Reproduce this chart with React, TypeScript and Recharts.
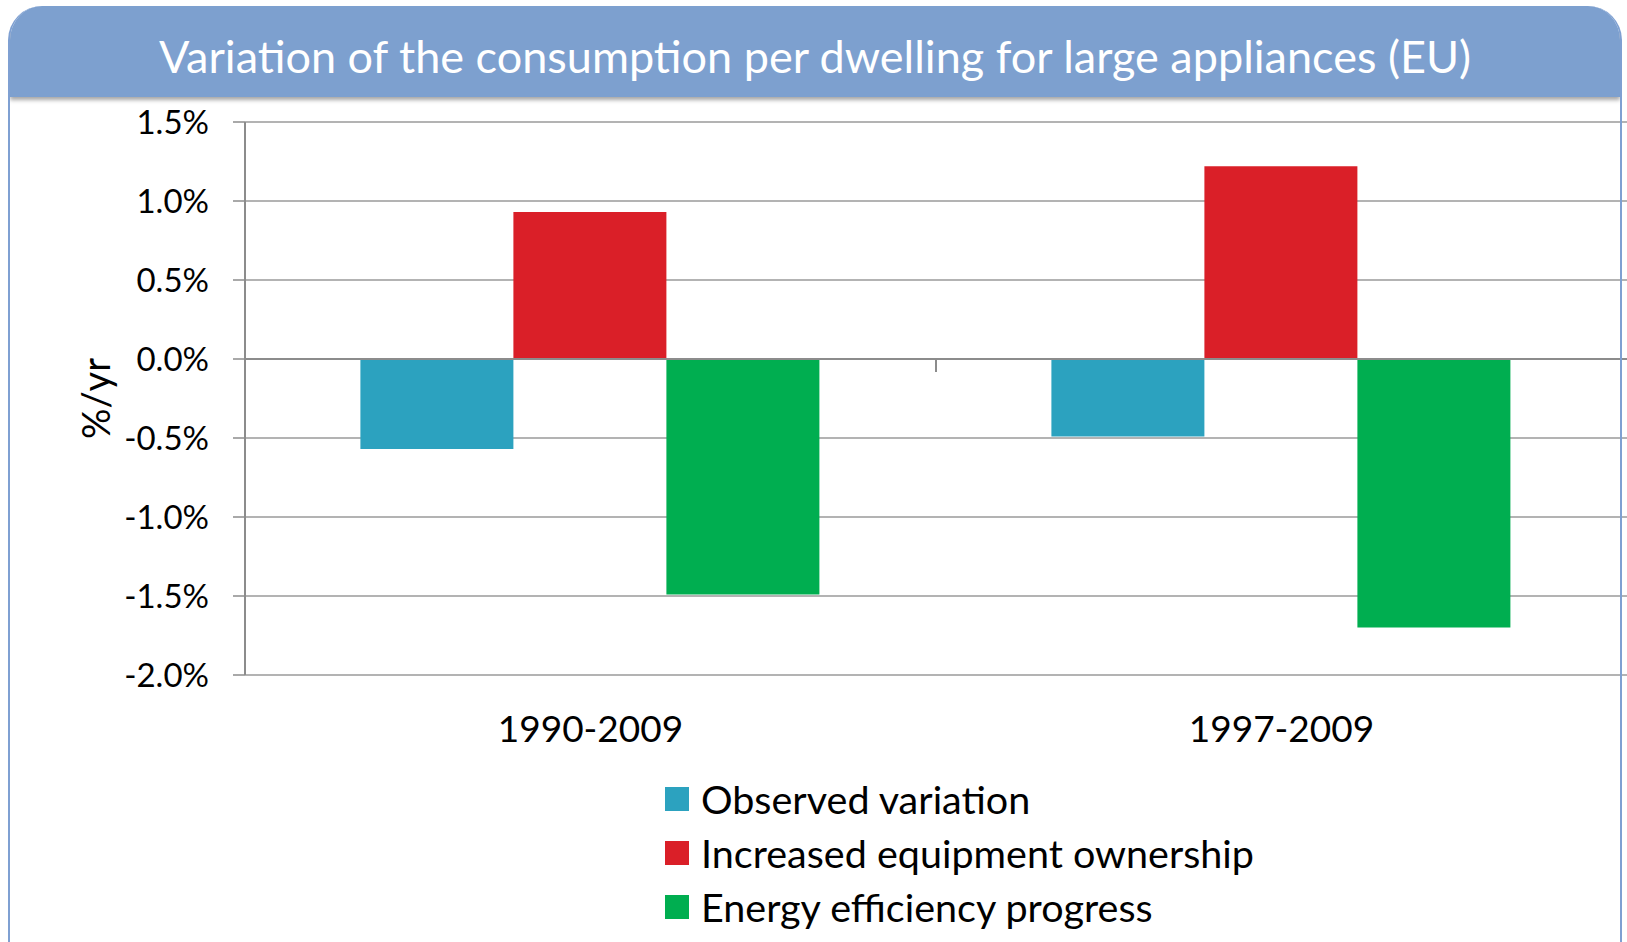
import React from 'react';
import { BarChart, Bar, XAxis, YAxis, CartesianGrid, Legend, ReferenceLine } from 'recharts';

// values, in %/yr
const periods = ['1990-2009', '1997-2009'];
const observed = [-0.57, -0.49];
const ownership = [0.93, 1.22];
const efficiency = [-1.49, -1.7];
const yTicks = [-2, -1.5, -1, -0.5, 0, 0.5, 1, 1.5];

const seriesNames = ['Observed variation', 'Increased equipment ownership', 'Energy efficiency progress'];
const seriesColors = ['#2CA2BF', '#DA1F28', '#00AE50'];

const data = periods.map((p, i) => ({
  period: p,
  observed: observed[i],
  ownership: ownership[i],
  efficiency: efficiency[i],
}));

const renderLegend = (props: any) => {
  // keep the series order, not the alphabetical one
  const items = [...(props.payload || [])].sort(
    (a: any, b: any) => seriesNames.indexOf(a.value) - seriesNames.indexOf(b.value)
  );
  return (
    <div>
      {items.map((entry: any) => (
        <div key={entry.value} style={{ display: 'flex', alignItems: 'center', height: 54 }}>
          <span style={{ display: 'inline-block', width: 24, height: 24, background: entry.color, marginRight: 12 }} />
          <span style={{ fontSize: 39.5, color: '#000', lineHeight: '54px' }}>{entry.value}</span>
        </div>
      ))}
    </div>
  );
};

const YLabel = (props: any) => {
  const vb = props.viewBox || { x: 0, y: 0, width: 0, height: 0 };
  const cx = vb.x + 95;
  const cy = vb.y + vb.height / 2;
  return (
    <text x={cx} y={cy} textAnchor="middle" dominantBaseline="central" fontSize={38} fill="#000"
      transform={`rotate(-90, ${cx}, ${cy})`}>
      %/yr
    </text>
  );
};

// zero line with the small category-separator tick in the middle
const ZeroLine = (p: any) => {
  const mid = (p.x1 + p.x2) / 2;
  return (
    <g>
      <line x1={p.x1} y1={p.y1} x2={p.x2} y2={p.y2} stroke="#8c8c8c" strokeWidth={2} />
      <line x1={mid} y1={p.y1} x2={mid} y2={p.y1 + 13} stroke="#8c8c8c" strokeWidth={2} />
    </g>
  );
};

export default function App() {
  return (
    <div style={{ position: 'absolute', left: 0, top: 0, width: 1627, height: 942, overflow: 'hidden', background: '#fff', fontFamily: 'Lato, sans-serif' }}>
      <div style={{ position: 'absolute', left: 0, top: 0 }}>
        <BarChart width={1627} height={942} data={data} barCategoryGap="16.7%" barGap={0}
          margin={{ top: 122, right: 0, left: 0, bottom: 167 }}>
          <CartesianGrid vertical={false} stroke="#9a9a9a" strokeWidth={1.5} />
          <XAxis dataKey="period" height={100} axisLine={false} tickLine={false} tickMargin={35}
            tick={{ fontSize: 37, fill: '#000' }} />
          <YAxis width={245} domain={[-2, 1.5]} ticks={yTicks} interval={0} tickSize={12} tickMargin={24}
            tickFormatter={(v: number) => v.toFixed(1) + '%'}
            axisLine={{ stroke: '#8c8c8c', strokeWidth: 2 }} tickLine={{ stroke: '#8c8c8c', strokeWidth: 1.5 }}
            tick={{ fontSize: 33, fill: '#000' }}
            label={<YLabel />} />
          <ReferenceLine y={0} shape={ZeroLine} />
          <Bar dataKey="observed" name={seriesNames[0]} fill={seriesColors[0]} isAnimationActive={false} />
          <Bar dataKey="ownership" name={seriesNames[1]} fill={seriesColors[1]} isAnimationActive={false} />
          <Bar dataKey="efficiency" name={seriesNames[2]} fill={seriesColors[2]} isAnimationActive={false} />
          <Legend layout="vertical" align="center" verticalAlign="middle" content={renderLegend}
            wrapperStyle={{ left: 665, top: 772, width: 'auto' }} />
        </BarChart>
      </div>
      {/* slide frame with the rounded blue header */}
      <div style={{
        position: 'absolute', left: 8, top: 6, width: 1610, height: 936,
        borderLeft: '2px solid #7FA0D2', borderRight: '2px solid #7FA0D2',
        borderTopLeftRadius: 34, borderTopRightRadius: 34, overflow: 'hidden', pointerEvents: 'none',
      }}>
        <div style={{
          height: 91, background: '#7DA0CF', color: '#fff', fontSize: 45,
          display: 'flex', alignItems: 'center', justifyContent: 'center', paddingTop: 8, boxSizing: 'border-box',
          boxShadow: '0 3px 4px rgba(0,0,0,0.35)',
        }}>
          Variation of the consumption per dwelling for large appliances (EU)
        </div>
      </div>
    </div>
  );
}
